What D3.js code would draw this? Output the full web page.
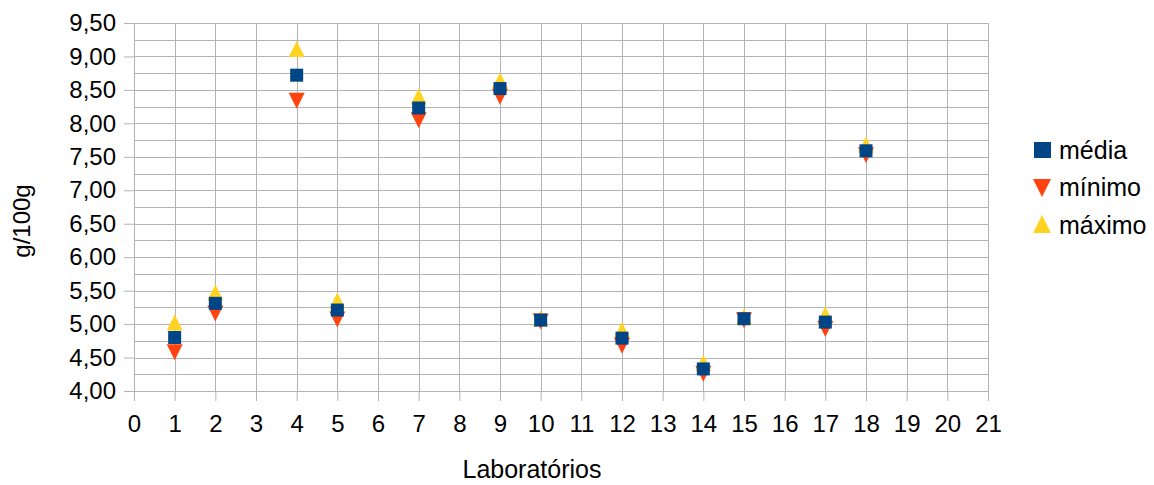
<!DOCTYPE html>
<html lang="pt">
<head>
<meta charset="UTF-8">
<title>Laboratórios</title>
<script src="https://d3js.org/d3.v7.min.js"></script>
<style>
  body { margin: 0; background: #fff; font-family: "Liberation Sans", Arial, sans-serif; }
  .tick text { font-size: 24px; fill: #000; font-family: "Liberation Sans", Arial, sans-serif; }
  .grid line { stroke: #b3b3b3; }
  .lbl { font-size: 24px; fill: #000; }
  .leg { font-size: 25px; fill: #000; }
</style>
</head>
<body>
<svg width="1154" height="485"></svg>
<script>
const labs   = [1, 2, 4, 5, 7, 9, 10, 12, 14, 15, 17, 18];
const media  = [4.80, 5.31, 8.72, 5.21, 8.23, 8.52, 5.06, 4.79, 4.33, 5.08, 5.03, 7.59];
const minimo = [4.59, 5.17, 8.35, 5.08, 8.06, 8.41, 5.05, 4.69, 4.27, 5.07, 4.94, 7.54];
const maximo = [5.01, 5.46, 9.10, 5.34, 8.39, 8.63, 5.07, 4.90, 4.41, 5.10, 5.13, 7.67];
const xTicks = d3.range(0, 22);
const yTicks = d3.range(4, 9.51, 0.5);

const svg = d3.select("svg");
const pLeft = 134, pRight = 988, pTop = 23, pBottom = 391;

const x = d3.scaleLinear().domain([0, 21]).range([pLeft, pRight]);
const y = d3.scaleLinear().domain([4, 9.5]).range([pBottom, pTop]);

// grid
const grid = svg.append("g").attr("class", "grid");
grid.selectAll(".h").data(d3.range(4, 9.51, 0.25)).enter().append("line")
  .attr("x1", pLeft).attr("x2", pRight)
  .attr("y1", d => Math.round(y(d)) + 0.5).attr("y2", d => Math.round(y(d)) + 0.5);
grid.selectAll(".v").data(xTicks).enter().append("line")
  .attr("y1", pTop).attr("y2", pBottom)
  .attr("x1", d => Math.round(x(d)) + 0.5).attr("x2", d => Math.round(x(d)) + 0.5);

const fmt = d => d3.format(".2f")(d).replace(".", ",");

svg.append("g")
  .attr("transform", `translate(${pLeft},0)`)
  .call(d3.axisLeft(y).tickValues(yTicks).tickFormat(fmt).tickSize(10).tickPadding(8))
  .call(g => g.selectAll("line, path").attr("stroke", "#b3b3b3"));

svg.append("g")
  .attr("transform", `translate(0,${pBottom})`)
  .call(d3.axisBottom(x).tickValues(xTicks).tickSize(10).tickPadding(14))
  .call(g => g.selectAll("line, path").attr("stroke", "#b3b3b3"));

// series
const tri = (s, up) => up
  ? `M0,${-s * 0.55}L${s / 2},${s * 0.45}L${-s / 2},${s * 0.45}Z`
  : `M0,${s * 0.55}L${s / 2},${-s * 0.45}L${-s / 2},${-s * 0.45}Z`;

svg.selectAll(".max").data(labs).enter().append("path")
  .attr("d", tri(16, true)).attr("fill", "#ffd320")
  .attr("transform", (d, i) => `translate(${x(d)},${y(maximo[i])})`);
svg.selectAll(".min").data(labs).enter().append("path")
  .attr("d", tri(16, false)).attr("fill", "#ff420e")
  .attr("transform", (d, i) => `translate(${x(d)},${y(minimo[i])})`);
svg.selectAll(".med").data(labs).enter().append("rect")
  .attr("width", 13).attr("height", 13).attr("fill", "#004586")
  .attr("x", d => x(d) - 6.5).attr("y", (d, i) => y(media[i]) - 6.5);

// axis titles
svg.append("text").attr("class", "leg").attr("text-anchor", "middle")
  .attr("x", 532).attr("y", 478).text("Laboratórios");
svg.append("text").attr("class", "lbl").attr("text-anchor", "middle")
  .attr("transform", "translate(30,221) rotate(-90)").text("g/100g");

// legend
const leg = svg.append("g").attr("transform", "translate(1042,0)");
leg.append("rect").attr("x", -8).attr("y", 142).attr("width", 17).attr("height", 16).attr("fill", "#004586");
leg.append("path").attr("d", tri(18, false)).attr("fill", "#ff420e").attr("transform", "translate(0,187)");
leg.append("path").attr("d", tri(18, true)).attr("fill", "#ffd320").attr("transform", "translate(0,225)");
[["média", 159], ["mínimo", 196], ["máximo", 234]].forEach(([t, yy]) =>
  leg.append("text").attr("class", "leg").attr("x", 17).attr("y", yy).text(t));
</script>
</body>
</html>
